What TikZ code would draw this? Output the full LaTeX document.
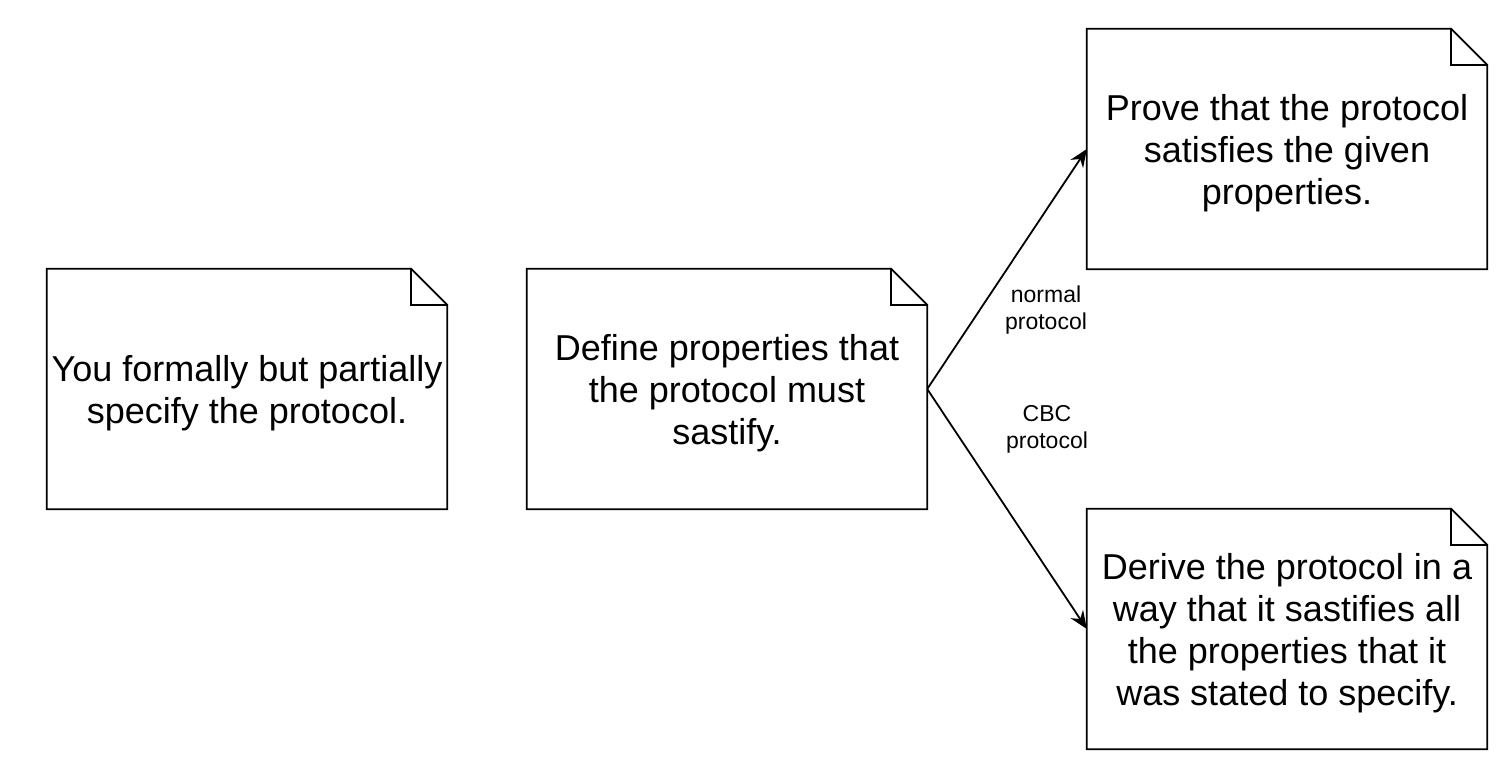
\documentclass[tikz,border=0pt]{standalone}
\usepackage{fontspec}
\setmainfont{Liberation Sans}
\usetikzlibrary{arrows.meta}
\begin{document}
\begin{tikzpicture}[x=1pt,y=-1pt,
  notebox/.style={minimum width=400pt,minimum height=240pt,inner sep=0pt},
  notetext/.style={align=center,inner sep=0pt,yshift=-4pt,font=\fontsize{36}{42}\selectfont},
  lbl/.style={align=center,inner sep=0pt,font=\fontsize{23}{27}\selectfont},
  outline/.style={line width=1.8pt,line join=miter},
  conn/.style={line width=1.8pt,-{Stealth[length=18pt,width=15pt,inset=6pt]}}]
\useasboundingbox (0,0) rectangle (1508,772);
\node[notebox,label={[notetext]center:{You formally but partially\\specify the protocol.}}] (a) at (247,389) {};
\node[notebox,label={[notetext]center:{Define properties that\\the protocol must\\sastify.}}] (b) at (727,389) {};
\node[notebox,label={[notetext]center:{Prove that the protocol\\satisfies the given\\properties.}}] (c) at (1287,149) {};
\node[notebox,label={[notetext]center:{Derive the protocol in a\\way that it sastifies all\\the properties that it\\was stated to specify.}}] (d) at (1287,629) {};
\foreach \n in {a,b,c,d} {
  \draw[outline] (\n.north west) -- ([xshift=-36pt]\n.north east) -- ([yshift=-36pt]\n.north east)
    -- (\n.south east) -- (\n.south west) -- cycle;
  \draw[outline] ([xshift=-36pt]\n.north east) -- ([xshift=-36pt,yshift=-36pt]\n.north east)
    -- ([yshift=-36pt]\n.north east);
}
\draw[conn] (b.east) -- (c.west);
\draw[conn] (b.east) -- (d.west);
\node[lbl] (l1) at (1046,310) {normal\\protocol};
\node[lbl] (l2) at (1047,429) {CBC\\protocol};
\end{tikzpicture}
\end{document}
